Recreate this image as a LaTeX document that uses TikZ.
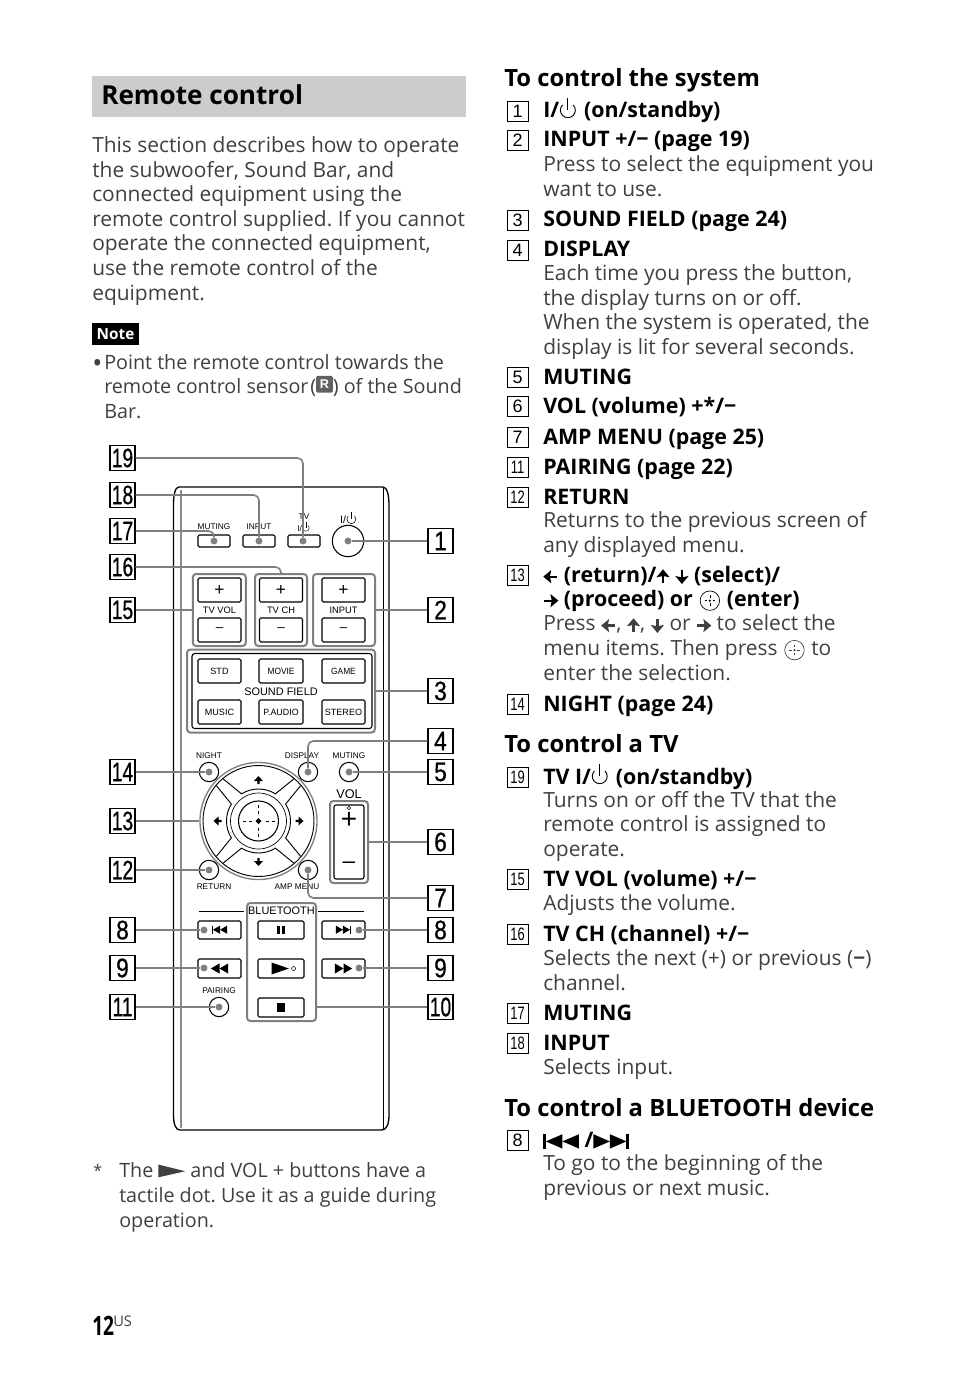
\documentclass[tikz,border=0pt]{standalone}
\usepackage{fontspec}
\setmainfont{Open Sans}
\setsansfont{Liberation Sans}
\newfontfamily\nrfont[FakeBold=0.8]{Liberation Sans}
\usetikzlibrary{positioning,calc}
\definecolor{cLead}{HTML}{7F7F7F}
\definecolor{cBand}{HTML}{CCCCCC}
\definecolor{cBody}{HTML}{404040}
\tikzset{
  px/.style 2 args={minimum width=#1*0.75pt, minimum height=#2*0.75pt},
  % remote control parts
  btn/.style={rectangle, draw, rounded corners=1pt, line width=.8pt, inner sep=0pt, font=\sffamily\fontsize{6.8}{7}\selectfont},
  grp/.style={rectangle, draw=cLead, rounded corners=2.5pt, line width=1.5pt, inner sep=0pt},
  rnd/.style={circle, draw, line width=.8pt, inner sep=0pt, minimum size=14.5pt},
  dot/.style={circle, fill=cLead, inner sep=0pt, minimum size=5.2pt},
  rem/.style={inner sep=0pt, font=\sffamily\fontsize{6.2}{7}\selectfont},
  lead/.style={draw=cLead, line width=1.2pt, rounded corners=4pt},
  callout/.style={rectangle, draw, line width=.8pt, inner sep=0pt, px={25}{25}, font=\nrfont\fontsize{20}{20}\selectfont},
  % text parts
  key/.style={rectangle, draw, line width=.7pt, inner sep=0pt, px={21}{20}, font=\sffamily\fontsize{13.5}{14}\selectfont},
  head/.style={anchor=base west, inner sep=0pt, font=\bfseries\fontsize{17.85}{20}\selectfont},
  item/.style={anchor=base west, inner sep=0pt, align=left, font=\bfseries\fontsize{16.05}{18}\selectfont},
  txt/.style={anchor=base west, inner sep=0pt, align=left, text=cBody, font=\fontsize{15.7}{18.4}\selectfont},
  txs/.style={txt, font=\fontsize{14.8}{18.4}\selectfont},
}
\newcommand{\nr}[1]{\scalebox{.72}[1]{#1}}
\newcommand{\ns}[1]{\scalebox{.85}[1]{#1}}
\newcommand{\pwricon}{\tikz[baseline=0pt,x=1pt,y=1pt,sharp corners]{\draw[line width=.7pt] (-3.4,9.8) arc (135:405:5.6); \draw[line width=.8pt] (.56,6)--(.56,15);}\hspace{1.5pt}}
\newcommand{\keyarrow}[1]{\tikz[baseline=-4pt,x=1pt,y=1pt,sharp corners]{\draw[rotate=#1,line width=1.7pt] (-5,0)--(2,0); \fill[rotate=#1] (5.5,0)--(-.5,5)--(.5,0)--(-.5,-5)--cycle;}}
\newcommand{\entericon}{\hspace{1pt}\tikz[baseline=-4pt,x=1pt,y=1pt,sharp corners]{\draw[line width=.5pt] (0,0) circle (7.3); \draw[line width=.5pt] (-4,0)--(-2,0) (2,0)--(4,0) (0,-4)--(0,-2) (0,2)--(0,4); \fill (0,0) circle (.9);}\hspace{1pt}}
\newcommand{\prevsym}[1]{\tikz[baseline=-3.5pt,x=1pt,y=1pt,scale=#1,sharp corners]{\fill (-10,-5) rectangle (-8.6,5); \fill (-8.6,0)--(0,5)--(0,-5)--cycle; \fill (0,0)--(8.6,5)--(8.6,-5)--cycle;}}
\newcommand{\nextsym}[1]{\tikz[baseline=-3.5pt,x=1pt,y=1pt,scale=#1,sharp corners]{\fill (10,-5) rectangle (8.6,5); \fill (8.6,0)--(0,5)--(0,-5)--cycle; \fill (0,0)--(-8.6,5)--(-8.6,-5)--cycle;}}
\newcommand{\playsym}{\tikz[baseline=0pt,x=1pt,y=1pt,sharp corners]{\fill (0,.5)--(20,5)--(0,10)--cycle;}}
\newcommand{\sensoricon}{\tikz[baseline=0pt,x=1pt,y=1pt]{\node[rectangle,fill=black!62,rounded corners=1pt,inner sep=0pt,minimum size=12.5pt,text=white,font=\sffamily\bfseries\fontsize{9.5}{10}\selectfont] (sensorR) at (6.2,4) {R};}}
\frenchspacing
\begin{document}
\begin{tikzpicture}[x=0.75pt, y=-0.75pt]
    \path[use as bounding box, fill=white] (0,0) rectangle (954,1373);

    % --- left column text ---
    \node[rectangle, fill=cBand, inner sep=0pt, px={374}{41}] (band) at (279,96.5) {};
    \node[anchor=base west, inner sep=0pt, font=\bfseries\fontsize{19.6}{22}\selectfont] (title) at (101,105) {Remote control};
    \node[txt] (intro) at (92,300) {This section describes how to operate\\the subwoofer, Sound Bar, and\\connected equipment using the\\remote control supplied. If you cannot\\operate the connected equipment,\\use the remote control of the\\equipment.};
    \node[rectangle, fill=black, text=white, inner sep=0pt, px={47}{22}, font=\bfseries\fontsize{11.5}{12}\selectfont] (note) at (115.5,334) {Note};
    \node[txs, font=\fontsize{20}{20}\selectfont] (bullet) at (92,372) {•};
    \node[txs] (notetx) at (104,418.5) {Point the remote control towards the\\remote control sensor\hspace*{-2.5pt} (\sensoricon) of the Sound\\Bar.};
    \node[txs, font=\fontsize{12}{12}\selectfont] (star) at (93,1176) {*};
    \node[txs] (foot) at (119,1227) {The \playsym{} and VOL + buttons have a\\tactile dot. Use it as a guide during\\operation.};
    \node[anchor=base west, inner sep=0pt, font=\bfseries\fontsize{20}{20}\selectfont] (pagenr) at (92,1335) {\scalebox{.72}[1]{12}};
    \node[anchor=base west, inner sep=0pt, text=cBody, font=\fontsize{11}{11}\selectfont] (pageus) at (113,1326) {US};

    % --- remote body ---
    \draw[line width=1pt] (179,487) -- (383,487) .. controls (387,487) and (389,495) .. (389,505) -- (389,1115)
      .. controls (389,1125) and (386,1130) .. (382,1130) -- (180,1130) .. controls (176,1130) and (173.5,1125) .. (173.5,1115)
      -- (173.5,505) .. controls (173.5,495) and (175,487) .. (179,487) -- cycle;
    \draw[black!45, line width=1pt] (181,490) -- (181,1128);
    \draw[line width=.6pt] (383,488) -- (383,1129);

    % --- top row ---
    \node[btn, px={32}{12}] (mutb) at (214,541) {};
    \node[btn, px={32}{12}] (inpb) at (259,541) {};
    \node[btn, px={32}{12}] (tvb)  at (304,541) {};
    \node[rnd, minimum size=23.5pt] (pwrb) at (348,541) {};
    \node[rem] (mutl) at (214,527) {MUTING};
    \node[rem] (inpl) at (259,527) {INPUT};
    \node[rem] (tvl)  at (304,517) {TV};
    \node[rem] (tvpl) at (304,527) {I/\scalebox{.45}{\pwricon}};
    \node[rem, font=\sffamily\fontsize{8}{9}\selectfont] (pwrl) at (349,518) {I/\scalebox{.6}{\pwricon}};
    \node[dot] (dmut) at (214,541) {};
    \node[dot] (dinp) at (259,541) {};
    \node[dot] (dtv)  at (303,541) {};
    \node[dot] (dpwr) at (348,541) {};

    % --- plus/minus groups ---
    \node[grp, px={53}{72}] (gvol) at (219.3,610) {};
    \node[grp, px={52}{72}] (gch)  at (281,610) {};
    \node[grp, px={62}{72}] (ginp) at (344,610) {};
    \foreach \n/\x/\t in {vol/219.5/TV VOL, ch/281/TV CH, inp/343.5/INPUT} {
      \node[btn, px={43}{24}, font=\sffamily\fontsize{13}{13}\selectfont] (p\n) at (\x,590) {+};
      \node[btn, px={43}{24}, font=\sffamily\fontsize{10}{10}\selectfont] (m\n) at (\x,630) {--};
      \node[rem, font=\sffamily\fontsize{7}{8}\selectfont] (l\n) at (\x,610) {\t};
    }

    % --- sound field ---
    \node[grp, px={188}{83}] (gsf) at (281,691) {};
    \node[btn, px={180}{75}, rounded corners=2pt, draw=black] (sfin) at (282,691) {};
    \node[btn, px={43}{24}] (sstd)  at (219.5,671) {STD};
    \node[btn, px={44}{24}] (smov)  at (281,671)   {\scalebox{.92}[1]{MOVIE}};
    \node[btn, px={43}{24}] (sgam)  at (343.5,671) {\scalebox{.92}[1]{GAME}};
    \node[btn, px={43}{24}] (smus)  at (219.5,712) {MUSIC};
    \node[btn, px={44}{24}] (saud)  at (281,712)   {\scalebox{.98}[1]{P.AUDIO}};
    \node[btn, px={43}{24}] (sste)  at (343.5,712) {STEREO};
    \node[rem, font=\sffamily\fontsize{8.2}{9}\selectfont] (lsf) at (281,691.5) {SOUND FIELD};

    % --- cross pad ---
    \node[circle, draw=cLead, line width=1pt, inner sep=0pt, px={117}{117}] (padg) at (258.5,821) {};
    \node[circle, draw, line width=.7pt, inner sep=0pt, px={111}{111}] (pado) at (258.5,821) {};
    \node[circle, draw, line width=.5pt, inner sep=0pt, px={56}{56}] (padr) at (258.5,821) {};
    \node[circle, draw, line width=.8pt, inner sep=0pt, px={40}{40}] (padc) at (258.5,821) {};
    \begin{scope}[shift={(258.5,821)}, y=0.75pt]
      \foreach \a in {0,90,180,270} {
        \draw[line width=.7pt] (\a-40:55) -- (\a-32:32) arc (\a-32:\a+32:32) -- (\a+40:55);
        \fill[rotate=\a] (45,0) -- (40,4.5) -- (40,1.2) -- (37,1.2) -- (37,-1.2) -- (40,-1.2) -- (40,-4.5) -- cycle;
        \draw[rotate=\a, line width=.5pt] (7,0) -- (10,0) (13,0) -- (16,0);
      }
      \fill (-3,0) -- (0,3) -- (3,0) -- (0,-3) -- cycle;
    \end{scope}
    \node[rem] (lnight) at (209,756) {NIGHT};
    \node[rem] (ldisp)  at (302,756) {DISPLAY};
    \node[rem] (lmut2)  at (349,756) {MUTING};
    \node[rem] (lret)   at (214,886.5) {RETURN};
    \node[rem] (lamp)   at (297,886.5) {AMP MENU};
    \node[rnd] (night) at (209,772) {};
    \node[rnd] (disp)  at (308,772) {};
    \node[rnd] (mut2)  at (349,772) {};
    \node[rnd] (ret)   at (209,870) {};
    \node[rnd] (amp)   at (308,870) {};
    \node[dot] (dnight) at (209,772) {};
    \node[dot] (ddisp)  at (308,772) {};
    \node[dot] (dmut2)  at (349,772) {};
    \node[dot] (dret)   at (209,870) {};
    \node[dot] (damp)   at (308,870) {};

    % --- VOL ---
    \node[rem, font=\sffamily\fontsize{9.5}{10}\selectfont] (lvol) at (349,794) {VOL};
    \node[grp, px={38}{82}] (gvolr) at (349,842) {};
    \node[btn, px={30}{74}, rounded corners=1.5pt] (volb) at (349,842) {};
    \node[circle, draw, line width=.4pt, inner sep=0pt, minimum size=2.6pt] (voldot) at (349,808) {};
    \node[inner sep=0pt, font=\sffamily\fontsize{21}{21}\selectfont] (volp) at (349,820) {+};
    \node[inner sep=0pt, font=\sffamily\fontsize{17}{17}\selectfont] (volm) at (349,865) {--};

    % --- bluetooth ---
    \node[grp, px={69}{118}] (gbt) at (281.5,962) {};
    \node[rem, font=\sffamily\fontsize{8.2}{9}\selectfont] (lbt) at (281.5,911) {BLUETOOTH};
    \coordinate (btl) at (199,911);
    \coordinate (btr) at (364,911);
    \draw[line width=.5pt] (btl) -- ++(45,0) (btr) -- ++(-46,0);
    \node[btn, px={43}{18}] (bprev) at (219.5,930) {\prevsym{.62}};
    \node[btn, px={46}{18}] (bpaus) at (281,930) {\tikz[x=1pt,y=1pt,sharp corners]{\fill (-3,-3.2) rectangle (-.9,3.2); \fill (.9,-3.2) rectangle (3,3.2);}};
    \node[btn, px={43}{18}] (bnext) at (343.5,930) {\nextsym{.62}};
    \node[btn, px={43}{19}] (brew)  at (219.5,968.5) {\tikz[x=1pt,y=1pt,sharp corners]{\fill (0,0)--(6.5,3.8)--(6.5,-3.8)--cycle; \fill (6.5,0)--(13,3.8)--(13,-3.8)--cycle;}};
    \node[btn, px={46}{19}] (bplay) at (281,968.5) {\hspace*{4pt}\tikz[x=1pt,y=1pt,baseline=-2.5pt,sharp corners]{\fill (0,4.5)--(13,0)--(0,-4.5)--cycle; \draw[line width=.4pt] (16.5,0) circle (1.5);}};
    \node[btn, px={43}{19}] (bff)   at (343.5,968.5) {\tikz[x=1pt,y=1pt,sharp corners]{\fill (0,3.8)--(6.5,0)--(0,-3.8)--cycle; \fill (6.5,3.8)--(13,0)--(6.5,-3.8)--cycle;}};
    \node[btn, px={46}{19}] (bstop) at (281,1007.5) {\tikz[x=1pt,y=1pt,sharp corners]{\fill (-3.2,-3.2) rectangle (3.2,3.2);}};
    \node[rem] (lpair) at (219,991) {PAIRING};
    \node[rnd] (pair) at (219,1007) {};
    \node[dot] (dpair)  at (219,1007) {};
    \node[dot] (dprev)  at (204,930) {};
    \node[dot] (drew)   at (204,968) {};
    \node[dot] (dnext)  at (359,930) {};
    \node[dot] (dff)    at (359,968) {};

    % --- callouts ---
    \foreach \n/\y/\t in {19/458/\nr{19},18/495/\nr{18},17/531/\nr{17},16/567/\nr{16},15/610/\nr{15},14/772/\nr{14},13/821/\nr{13},12/870/\nr{12},8/930/\ns{8},9/968/\ns{9},11/1007/\nr{11}}
      \node[callout] (cl\n) at (122.5,\y) {\t};
    \foreach \n/\y/\t in {1/541/\ns{1},2/610/\ns{2},3/691/\ns{3},4/741/\ns{4},5/772/\ns{5},6/842/\ns{6},7/898/\ns{7},8/930/\ns{8},9/968/\ns{9},10/1007/\nr{10}}
      \node[callout] (cr\n) at (440.5,\y) {\t};
    \draw[lead] (cl19.east) -| (dtv);
    \draw[lead] (cl18.east) -| (dinp);
    \draw[lead] (cl17.east) -| (dmut);
    \draw[lead] (cl16.east) -| (gch.north);
    \draw[lead] (cl15.east) -- (gvol.west);
    \draw[lead] (cl14.east) -- (dnight);
    \draw[lead] (cl13.east) -- (padg.west);
    \draw[lead] (cl12.east) -- (dret);
    \draw[lead] (cl8.east) -- (dprev);
    \draw[lead] (cl9.east) -- (drew);
    \draw[lead] (cl11.east) -- (dpair);
    \draw[lead] (cr1.west) -- (dpwr);
    \draw[lead] (cr2.west) -- (ginp.east);
    \draw[lead] (cr3.west) -- (gsf.east);
    \draw[lead] (cr4.west) -| (ddisp);
    \draw[lead] (cr5.west) -- (dmut2);
    \draw[lead] (cr6.west) -- (gvolr.east);
    \draw[lead] (cr7.west) -| (damp);
    \draw[lead] (cr8.west) -- (dnext);
    \draw[lead] (cr9.west) -- (dff);
    \draw[lead] (cr10.west) -- (cr10.west -| gbt.east);

    % --- right column: system ---
    \node[head] (hsys) at (504,87) {To control the system};
    \node[key] (k1) at (517.5,111) {1};
    \node[item] (i1) at (543,118) {I/\pwricon{} (on/standby)};
    \node[key] (k2) at (517.5,140) {2};
    \node[item] (i2) at (543,147) {INPUT +/− (page 19)};
    \node[txt] (t2) at (543,196.5) {Press to select the equipment you\\want to use.};
    \node[key] (k3) at (517.5,220) {3};
    \node[item] (i3) at (543,227) {SOUND FIELD (page 24)};
    \node[key] (k4) at (517.5,250) {4};
    \node[item] (i4) at (543,257) {DISPLAY};
    \node[txt] (t4) at (543,354.5) {Each time you press the button,\\the display turns on or off.\\When the system is operated, the\\display is lit for several seconds.};
    \node[key] (k5) at (517.5,377) {5};
    \node[item] (i5) at (543,384) {MUTING};
    \node[key] (k6) at (517.5,406) {6};
    \node[item] (i6) at (543,413) {VOL (volume) +*/−};
    \node[key] (k7) at (517.5,437) {7};
    \node[item] (i7) at (543,444) {AMP MENU (page 25)};
    \node[key] (k11) at (517.5,467) {\nr{11}};
    \node[item] (i11) at (543,474) {PAIRING (page 22)};
    \node[key] (k12) at (517.5,497) {\nr{12}};
    \node[item] (i12) at (543,504) {RETURN};
    \node[txt] (t12) at (543,552.5) {Returns to the previous screen of\\any displayed menu.};
    \node[key] (k13) at (517.5,575) {\nr{13}};
    \node[item] (i13) at (543,606) {\keyarrow{180} (return)/\keyarrow{90} \keyarrow{270} (select)/\\\keyarrow{0} (proceed) or \entericon{} (enter)};
    \node[txt] (t13) at (543,680) {Press \keyarrow{180}, \keyarrow{90}, \keyarrow{270} or \keyarrow{0} to select the\\menu items. Then press \entericon{} to\\enter the selection.};
    \node[key] (k14) at (517.5,704) {\nr{14}};
    \node[item] (i14) at (543,711) {NIGHT (page 24)};

    % --- right column: TV ---
    \node[head] (htv) at (504,752) {To control a TV};
    \node[key] (k19) at (517.5,777) {\nr{19}};
    \node[item] (i19) at (543,784) {TV I/\pwricon{} (on/standby)};
    \node[txt] (t19) at (543,856.5) {Turns on or off the TV that the\\remote control is assigned to\\operate.};
    \node[key] (k15) at (517.5,879) {\nr{15}};
    \node[item] (i15) at (543,886) {TV VOL (volume) +/−};
    \node[txt] (t15) at (543,910.5) {Adjusts the volume.};
    \node[key] (k16) at (517.5,934) {\nr{16}};
    \node[item] (i16) at (543,941) {TV CH (channel) +/−};
    \node[txt] (t16) at (543,990.5) {Selects the next (+) or previous (\textbf{−})\\channel.};
    \node[key] (k17) at (517.5,1013) {\nr{17}};
    \node[item] (i17) at (543,1020) {MUTING};
    \node[key] (k18) at (517.5,1043) {\nr{18}};
    \node[item] (i18) at (543,1050) {INPUT};
    \node[txt] (t18) at (543,1074.5) {Selects input.};

    % --- right column: bluetooth ---
    \node[head] (hbt) at (504,1116) {To control a BLUETOOTH device};
    \node[key] (k8) at (517.5,1140) {8};
    \node[item] (i8) at (543,1147) {\scalebox{1.6}[1.2]{\prevsym{.9}} /\scalebox{1.6}[1.2]{\nextsym{.9}}};
    \node[txt] (t8) at (543,1195.5) {To go to the beginning of the\\previous or next music.};
\end{tikzpicture}
\end{document}
